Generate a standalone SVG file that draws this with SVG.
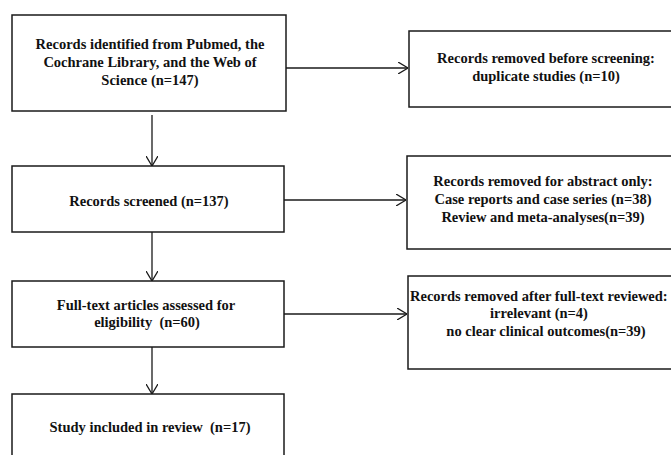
<svg xmlns="http://www.w3.org/2000/svg" width="671" height="455" viewBox="0 0 671 455">
<defs>
<style>
.box{fill:#fff;stroke:#1a1a1a;stroke-width:1.5}
.t{font-family:"Liberation Serif","Times New Roman",serif;font-weight:bold;font-size:14.5px;fill:#111;text-anchor:middle;white-space:pre}
.s{text-anchor:start}
.c{fill:none;stroke:#1a1a1a;stroke-width:1.3}
</style>
<marker id="arr" viewBox="0 0 10 12" refX="10" refY="6" markerWidth="10" markerHeight="12" markerUnits="userSpaceOnUse" orient="auto">
<path d="M0,0 L10,6 L0,12" fill="none" stroke="#1a1a1a" stroke-width="1.3"/>
</marker>
</defs>
<rect width="671" height="455" fill="#fff"/>
<g id="connectors">
<line class="c" x1="152" y1="115" x2="152" y2="166" marker-end="url(#arr)"/>
<line class="c" x1="152" y1="232" x2="152" y2="281" marker-end="url(#arr)"/>
<line class="c" x1="152" y1="347" x2="152" y2="394" marker-end="url(#arr)"/>
<line class="c" x1="286" y1="68" x2="408" y2="68" marker-end="url(#arr)"/>
<line class="c" x1="284" y1="200" x2="406" y2="200" marker-end="url(#arr)"/>
<line class="c" x1="284" y1="314" x2="407" y2="314" marker-end="url(#arr)"/>
</g>
<g id="identified">
<rect class="box" x="12" y="15" width="274" height="96"/>
<text class="t" x="150" y="49">Records identified from Pubmed, the</text>
<text class="t" x="150" y="67">Cochrane Library, and the Web of</text>
<text class="t" x="150" y="85">Science (n=147)</text>
</g>
<g id="screened">
<rect class="box" x="12" y="166" width="272" height="66"/>
<text class="t" x="149" y="206">Records screened (n=137)</text>
</g>
<g id="fulltext">
<rect class="box" x="12" y="281" width="272" height="66"/>
<text class="t" x="146" y="310">Full-text articles assessed for</text>
<text class="t" x="147" y="327">eligibility  (n=60)</text>
</g>
<g id="included">
<rect class="box" x="12" y="394" width="272" height="70"/>
<text class="t" x="150" y="432">Study included in review  (n=17)</text>
</g>
<g id="removed-before">
<rect class="box" x="409" y="31" width="280" height="76"/>
<text class="t" x="546" y="63">Records removed before screening:</text>
<text class="t" x="546" y="81">duplicate studies (n=10)</text>
</g>
<g id="removed-abstract">
<rect class="box" x="407" y="156" width="280" height="93"/>
<text class="t" x="543" y="186">Records removed for abstract only:</text>
<text class="t" x="543" y="204">Case reports and case series (n=38)</text>
<text class="t" x="543" y="222">Review and meta-analyses(n=39)</text>
</g>
<g id="removed-fulltext">
<rect class="box" x="408" y="276" width="280" height="93"/>
<text class="t s" x="410" y="301">Records removed after full-text reviewed:</text>
<text class="t" x="539" y="318">irrelevant (n=4)</text>
<text class="t" x="546" y="336">no clear clinical outcomes(n=39)</text>
</g>
</svg>
